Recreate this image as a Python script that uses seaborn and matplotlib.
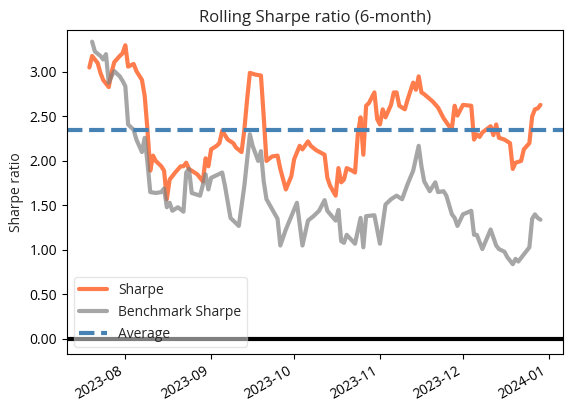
import matplotlib
matplotlib.use("Agg")
import matplotlib.pyplot as plt
import matplotlib.dates as mdates
import matplotlib.ticker as mticker
import seaborn as sns
import pandas as pd

sharpe_dates = [
    "2023-07-19", "2023-07-20", "2023-07-22", "2023-07-23", "2023-07-24", "2023-07-26",
    "2023-07-27", "2023-07-28", "2023-07-30", "2023-07-31", "2023-08-01", "2023-08-02",
    "2023-08-04", "2023-08-05", "2023-08-07", "2023-08-08", "2023-08-09", "2023-08-10",
    "2023-08-11", "2023-08-12", "2023-08-14", "2023-08-15", "2023-08-16", "2023-08-17",
    "2023-08-19", "2023-08-21", "2023-08-22", "2023-08-23", "2023-08-24", "2023-08-27",
    "2023-08-29", "2023-08-30", "2023-08-31", "2023-09-01", "2023-09-03", "2023-09-04",
    "2023-09-05", "2023-09-07", "2023-09-09", "2023-09-10", "2023-09-12", "2023-09-13",
    "2023-09-14", "2023-09-15", "2023-09-17", "2023-09-19", "2023-09-20", "2023-09-21",
    "2023-09-23", "2023-09-25", "2023-09-26", "2023-09-28", "2023-09-30", "2023-10-01",
    "2023-10-03", "2023-10-04", "2023-10-06", "2023-10-07", "2023-10-09", "2023-10-12",
    "2023-10-13", "2023-10-14", "2023-10-16", "2023-10-17", "2023-10-18", "2023-10-19",
    "2023-10-20", "2023-10-22", "2023-10-23", "2023-10-24", "2023-10-25", "2023-10-26",
    "2023-10-27", "2023-10-28", "2023-10-30", "2023-10-31", "2023-11-01", "2023-11-02",
    "2023-11-03", "2023-11-05", "2023-11-06", "2023-11-07", "2023-11-08", "2023-11-10",
    "2023-11-11", "2023-11-13", "2023-11-14", "2023-11-15", "2023-11-16", "2023-11-17",
    "2023-11-20", "2023-11-22", "2023-11-24", "2023-11-26", "2023-11-27", "2023-11-28",
    "2023-11-29", "2023-12-01", "2023-12-04", "2023-12-05", "2023-12-06", "2023-12-07",
    "2023-12-08", "2023-12-11", "2023-12-12", "2023-12-13", "2023-12-14", "2023-12-16",
    "2023-12-18", "2023-12-19", "2023-12-20", "2023-12-22", "2023-12-23", "2023-12-25",
    "2023-12-26", "2023-12-27", "2023-12-28", "2023-12-29",
]
sharpe_values = [
    3.05, 3.18, 3.10, 2.99, 2.91, 2.83,
    2.99, 3.11, 3.18, 3.21, 3.30, 3.06,
    3.09, 3.01, 2.91, 2.73, 2.35, 1.89,
    2.06, 2.00, 1.94, 1.89, 1.57, 1.79,
    1.87, 1.94, 1.94, 1.98, 1.91, 1.85,
    1.77, 2.03, 1.94, 2.13, 2.17, 2.20,
    2.34, 2.24, 2.20, 2.15, 2.10, 2.35,
    2.69, 2.99, 2.97, 2.96, 2.50, 2.00,
    2.05, 2.06, 1.91, 1.68, 1.83, 2.02,
    2.17, 2.13, 2.22, 2.17, 2.12, 2.07,
    1.81, 1.72, 1.61, 1.92, 1.76, 1.79,
    1.92, 1.89, 1.87, 2.30, 2.49, 2.07,
    2.62, 2.65, 2.77, 2.47, 2.41, 2.58,
    2.49, 2.63, 2.77, 2.77, 2.62, 2.58,
    2.69, 2.88, 2.80, 2.95, 2.77, 2.75,
    2.67, 2.60, 2.48, 2.39, 2.37, 2.62,
    2.51, 2.63, 2.62, 2.24, 2.30, 2.27,
    2.32, 2.39, 2.29, 2.41, 2.26, 2.24,
    2.20, 1.91, 1.98, 2.00, 2.13, 2.20,
    2.50, 2.58, 2.59, 2.63,
]

bench_dates = [
    "2023-07-20", "2023-07-21", "2023-07-23", "2023-07-24", "2023-07-25", "2023-07-26",
    "2023-07-27", "2023-07-28", "2023-07-30", "2023-07-31", "2023-08-01", "2023-08-02",
    "2023-08-03", "2023-08-04", "2023-08-05", "2023-08-07", "2023-08-08", "2023-08-09",
    "2023-08-10", "2023-08-12", "2023-08-14", "2023-08-15", "2023-08-16", "2023-08-17",
    "2023-08-18", "2023-08-20", "2023-08-22", "2023-08-23", "2023-08-24", "2023-08-25",
    "2023-08-28", "2023-08-30", "2023-08-31", "2023-09-01", "2023-09-03", "2023-09-05",
    "2023-09-06", "2023-09-08", "2023-09-11", "2023-09-13", "2023-09-15", "2023-09-16",
    "2023-09-18", "2023-09-19", "2023-09-20", "2023-09-21", "2023-09-23", "2023-09-25",
    "2023-09-26", "2023-09-28", "2023-09-30", "2023-10-02", "2023-10-04", "2023-10-06",
    "2023-10-08", "2023-10-10", "2023-10-12", "2023-10-13", "2023-10-16", "2023-10-17",
    "2023-10-18", "2023-10-19", "2023-10-20", "2023-10-23", "2023-10-25", "2023-10-26",
    "2023-10-27", "2023-10-30", "2023-11-01", "2023-11-03", "2023-11-05", "2023-11-07",
    "2023-11-09", "2023-11-11", "2023-11-13", "2023-11-15", "2023-11-16", "2023-11-17",
    "2023-11-19", "2023-11-21", "2023-11-22", "2023-11-24", "2023-11-25", "2023-11-27",
    "2023-11-28", "2023-11-29", "2023-12-01", "2023-12-04", "2023-12-05", "2023-12-06",
    "2023-12-08", "2023-12-11", "2023-12-13", "2023-12-14", "2023-12-16", "2023-12-17",
    "2023-12-19", "2023-12-20", "2023-12-21", "2023-12-23", "2023-12-25", "2023-12-26",
    "2023-12-27", "2023-12-28", "2023-12-29",
]
bench_values = [
    3.34, 3.23, 3.18, 3.14, 3.20, 2.88,
    2.95, 3.01, 2.95, 2.90, 2.84, 2.41,
    2.38, 2.35, 2.24, 2.10, 2.26, 1.98,
    1.65, 1.64, 1.65, 1.69, 1.48, 1.53,
    1.44, 1.48, 1.43, 1.87, 1.91, 1.64,
    1.61, 1.85, 1.68, 1.81, 1.84, 1.87,
    1.72, 1.36, 1.27, 1.72, 2.30, 2.17,
    2.00, 2.11, 1.77, 1.57, 1.46, 1.35,
    1.05, 1.23, 1.38, 1.53, 1.05, 1.33,
    1.38, 1.44, 1.56, 1.44, 1.33, 1.45,
    1.10, 1.08, 1.17, 1.07, 1.36, 1.03,
    1.38, 1.39, 1.07, 1.51, 1.57, 1.61,
    1.57, 1.74, 1.89, 2.17, 1.94, 1.77,
    1.66, 1.76, 1.65, 1.66, 1.61, 1.40,
    1.36, 1.27, 1.40, 1.44, 1.17, 1.17,
    1.01, 1.23, 1.05, 1.01, 0.98, 0.92,
    0.84, 0.90, 0.87, 0.95, 1.03, 1.35,
    1.40, 1.36, 1.34,
]

sharpe_average = 2.35

title = "Rolling Sharpe ratio (6-month)"
y_label = "Sharpe ratio"
legend_labels = ["Sharpe", "Benchmark Sharpe", "Average"]

sns.set_style("white")
plt.rcParams["font.family"] = ["Open Sans", "DejaVu Sans"]
plt.rcParams["axes.edgecolor"] = "black"
plt.rcParams["xtick.color"] = "black"
plt.rcParams["ytick.color"] = "black"
plt.rcParams["xtick.bottom"] = True
plt.rcParams["ytick.left"] = True

fig = plt.figure(figsize=(5.71, 4.07), dpi=100)
ax = fig.add_axes([0.117, 0.13, 0.869, 0.796])

s_df = pd.DataFrame({"date": pd.to_datetime(sharpe_dates), "value": sharpe_values})
b_df = pd.DataFrame({"date": pd.to_datetime(bench_dates), "value": bench_values})

sns.lineplot(data=s_df, x="date", y="value", ax=ax, color="orangered", alpha=0.7,
             lw=3, label=legend_labels[0], estimator=None)
sns.lineplot(data=b_df, x="date", y="value", ax=ax, color="grey", alpha=0.7,
             lw=3, label=legend_labels[1], estimator=None)
ax.axhline(sharpe_average, color="steelblue", linestyle="--", lw=3, label=legend_labels[2])
ax.axhline(0.0, color="black", linestyle="-", lw=3)

ax.set_ylim(-0.17, 3.47)
ax.yaxis.set_major_locator(mticker.MultipleLocator(0.5))
ax.yaxis.set_major_formatter(mticker.FormatStrFormatter("%.2f"))
ax.xaxis.set_major_locator(mdates.MonthLocator())
ax.xaxis.set_major_formatter(mdates.DateFormatter("%Y-%m"))
for lbl in ax.get_xticklabels():
    lbl.set_rotation(30)
    lbl.set_ha("right")

ax.set_title(title, fontsize=12)
ax.set_ylabel(y_label, fontsize=10)
ax.set_xlabel("")
ax.tick_params(axis="both", labelsize=10, length=3.5, width=0.8, direction="out")
for sp in ax.spines.values():
    sp.set_color("black")
    sp.set_linewidth(0.8)

ax.legend(loc="lower left", frameon=True, framealpha=0.5, fontsize=10)

fig.savefig("out.png", dpi=100)
